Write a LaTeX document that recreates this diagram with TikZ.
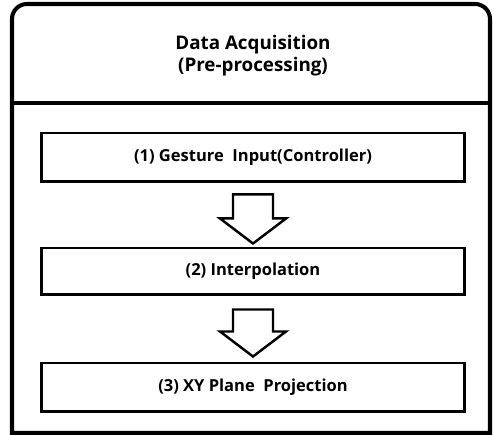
\documentclass[tikz,border=0pt]{standalone}
\usepackage{fontspec}
\setmainfont{Open Sans}
\usetikzlibrary{calc}
\begin{document}
\begin{tikzpicture}[x=0.02cm,y=0.02cm,
  frame/.style={line width=2.3pt},
  stepbox/.style={draw,line width=1.7pt,minimum width=8.48cm,minimum height=0.98cm,inner sep=0pt,font=\fontsize{9.4}{11}\selectfont\bfseries},
  blockarrow/.style={draw,line width=1.4pt,fill=white,line join=miter}]
\useasboundingbox (0,0) rectangle (494,435);
\draw[frame] (12,2) -- (12,416) arc(180:90:15) -- (475,431) arc(90:0:15) -- (490,2) -- cycle;
\draw[frame] (12,332) -- (490,332);
\node[align=center,font=\fontsize{10.7}{12.5}\selectfont\bfseries] (title) at (253,379) {Data Acquisition\\(Pre-processing)};
\node[stepbox] (b1) at (253,277.5) {(1) Gesture\ \ Input(Controller)};
\node[stepbox,minimum height=0.94cm] (b2) at (253,163.5) {(2) Interpolation};
\node[stepbox] (b3) at (253,47.5) {(3) XY Plane\ \ Projection};
\draw[blockarrow] ($(b1.south)+(-20,-11)$) -- ($(b1.south)+(20,-11)$) -- ($(b1.south)+(20,-35)$) -- ($(b1.south)+(33,-35)$) -- ($(b2.north)+(0,3)$) -- ($(b1.south)+(-33,-35)$) -- ($(b1.south)+(-20,-35)$) -- cycle;
\draw[blockarrow] ($(b2.south)+(-20,-13)$) -- ($(b2.south)+(20,-13)$) -- ($(b2.south)+(20,-35)$) -- ($(b2.south)+(33,-35)$) -- ($(b3.north)+(0,5)$) -- ($(b2.south)+(-33,-35)$) -- ($(b2.south)+(-20,-35)$) -- cycle;
\end{tikzpicture}
\end{document}
